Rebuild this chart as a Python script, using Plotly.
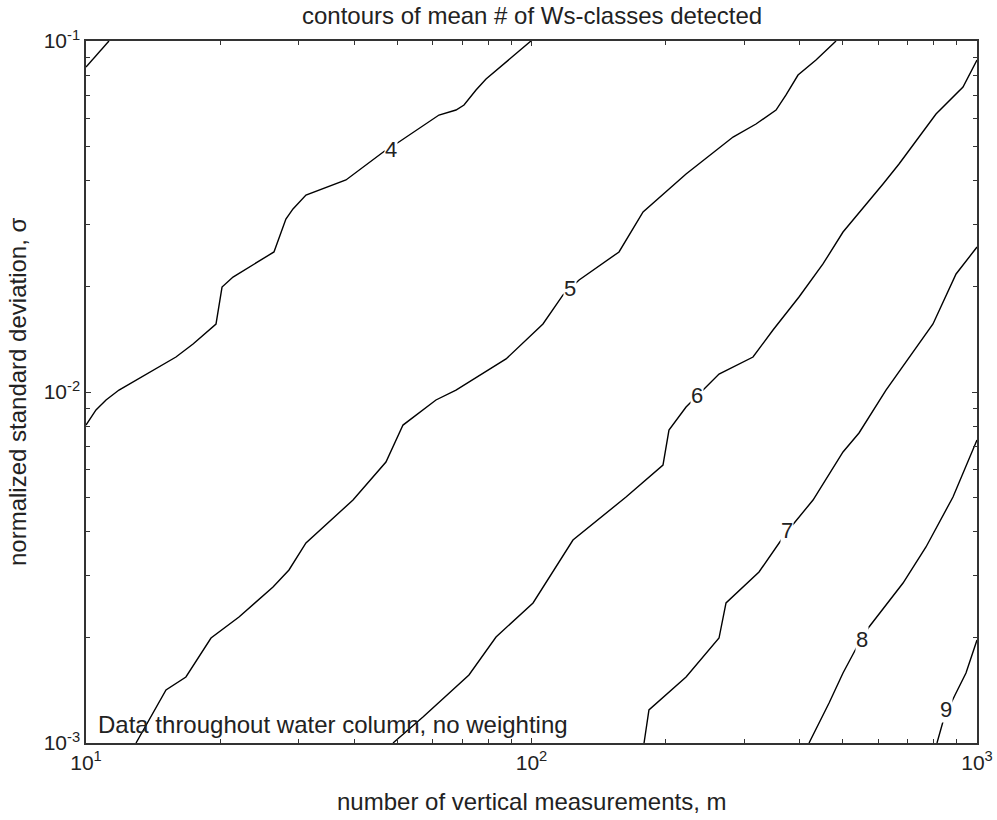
import math
import plotly.graph_objects as go

# ---- contour data: (m, sigma) pairs per contour level ----
c3_m = [10.0, 11.26]
c3_s = [0.0843, 0.1]

c4_m = [10.0, 10.53, 11.09, 11.86, 15.92, 17.39, 19.58, 20.20, 21.38, 26.42, 28.10, 29.15,
        31.17, 38.33, 47.13, 49.63, 61.99, 67.69, 70.55, 75.07, 79.06, 87.67, 99.7]
c4_s = [0.00805, 0.00889, 0.00949, 0.01013, 0.01258, 0.01370, 0.01562, 0.01991, 0.02126, 0.02506,
        0.03111, 0.03323, 0.03641, 0.04018, 0.04891, 0.05087, 0.06153, 0.06358, 0.06570, 0.07253,
        0.07793, 0.08713, 0.1]

c5_m = [12.95, 15.12, 16.76, 19.08, 22.05, 26.29, 28.55, 31.17, 39.75, 47.13, 51.47, 61.03, 67.69,
        87.67, 106.1, 117.7, 127.9, 157.2, 178.0, 222.3, 283.4, 319.1, 353.9, 372.7, 396.5, 435.1, 482.6]
c5_s = [0.001, 0.001416, 0.001542, 0.001991, 0.002286, 0.002782, 0.003111, 0.003714, 0.004924,
        0.006318, 0.00805, 0.00949, 0.01013, 0.01242, 0.01562, 0.01890, 0.02085, 0.02506, 0.03257,
        0.04180, 0.05326, 0.05801, 0.06358, 0.07019, 0.07999, 0.08829, 0.1]

c6_m = [48.88, 57.07, 72.38, 83.25, 100.8, 123.9, 163.0, 197.3, 203.5, 222.3, 263.6, 314.2, 348.4,
        398.5, 451.1, 500.3, 615.2, 668.3, 809.1, 930.2, 1000.0]
c6_s = [0.001, 0.001186, 0.001562, 0.002004, 0.002506, 0.003787, 0.005022, 0.006194, 0.007793,
        0.009063, 0.01125, 0.01258, 0.01502, 0.01865, 0.02316, 0.02856, 0.03914, 0.04463, 0.06194,
        0.07397, 0.08829]

c7_m = [178.9, 183.5, 222.3, 263.6, 273.3, 324.1, 372.7, 428.5, 500.3, 543.4, 624.8, 741.2, 796.5,
        897.4, 1000.0]
c7_s = [0.001, 0.001242, 0.001542, 0.001991, 0.002506, 0.003070, 0.003966, 0.004924, 0.006748,
        0.007642, 0.01013, 0.01370, 0.01562, 0.02169, 0.02588]

c8_m = [419.7, 465.5, 500.3, 543.4, 572.3, 682.3, 768.3, 883.3, 1000.0]
c8_s = [0.001, 0.001300, 0.001583, 0.001927, 0.002141, 0.002856, 0.003618, 0.005022, 0.007297]

c9_m = [813.2, 843.2, 892.6, 944.7, 1000.0]
c9_s = [0.001, 0.001178, 0.001370, 0.001583, 0.001965]

contours = [(c3_m, c3_s), (c4_m, c4_s), (c5_m, c5_s), (c6_m, c6_s),
            (c7_m, c7_s), (c8_m, c8_s), (c9_m, c9_s)]

label_text = ["4", "5", "6", "7", "8", "9"]
label_m = [48.4, 122.0, 235.2, 374.6, 552.0, 851.9]
label_s = [0.04924, 0.01978, 0.00980, 0.004018, 0.001978, 0.001242]

x_tickvals = [10, 100, 1000]
x_ticktext = ["10<sup>1</sup>", "10<sup>2</sup>", "10<sup>3</sup>"]
y_tickvals = [0.001, 0.01, 0.1]
y_ticktext = ["10<sup>-3</sup>", "10<sup>-2</sup>", "10<sup>-1</sup>"]
x_minor = [d * k for d in (10, 100) for k in range(2, 10)]
y_minor = [d * k for d in (0.001, 0.01) for k in range(2, 10)]

FONT = "Liberation Sans, Arial, sans-serif"
TXT = "#222"

fig = go.Figure()
for m, s in contours:
    fig.add_trace(go.Scatter(x=m, y=s, mode="lines",
                             line=dict(color="black", width=1.4),
                             showlegend=False, hoverinfo="skip"))

# annotations on log axes take log10 positions
for t, m, s in zip(label_text, label_m, label_s):
    fig.add_annotation(x=math.log10(m), y=math.log10(s), xref="x", yref="y", text=t,
                       showarrow=False, font=dict(size=22, color=TXT, family=FONT),
                       bgcolor="white", borderpad=0)

axis_common = dict(type="log", showgrid=False, zeroline=False, automargin=False,
                   showline=True, linecolor="#333", linewidth=1.5, mirror="ticks",
                   ticks="inside", ticklen=5, tickcolor="#333",
                   tickfont=dict(size=21, color=TXT, family=FONT))

fig.update_xaxes(range=[1, 3], tickmode="array", tickvals=x_tickvals, ticktext=x_ticktext,
                 minor=dict(tickmode="array", tickvals=x_minor, ticks="inside", ticklen=4,
                            tickcolor="#333", showgrid=False),
                 **axis_common)
fig.update_yaxes(range=[-3, -1], tickmode="array", tickvals=y_tickvals, ticktext=y_ticktext,
                 minor=dict(tickmode="array", tickvals=y_minor, ticks="inside", ticklen=4,
                            tickcolor="#333", showgrid=False),
                 **axis_common)

fig.add_annotation(text="contours of mean # of Ws-classes detected", xref="paper", yref="paper",
                   x=0.5, y=1, yshift=26, xanchor="center", yanchor="middle", showarrow=False,
                   font=dict(size=24, color=TXT, family=FONT))
fig.add_annotation(text="number of vertical measurements, m", xref="paper", yref="paper",
                   x=0.5, y=0, yshift=-58, xanchor="center", yanchor="middle", showarrow=False,
                   font=dict(size=24, color=TXT, family=FONT))
fig.add_annotation(text="normalized standard deviation, σ", xref="paper", yref="paper",
                   x=0, xshift=-69, y=0.5, xanchor="center", yanchor="middle", textangle=-90,
                   showarrow=False, font=dict(size=24, color=TXT, family=FONT))
fig.add_annotation(text="Data throughout water column, no weighting", xref="paper", yref="paper",
                   x=0, xshift=10, y=0, yshift=3, xanchor="left", yanchor="bottom", showarrow=False,
                   font=dict(size=24, color=TXT, family=FONT))

fig.update_layout(width=997, height=820, plot_bgcolor="white", paper_bgcolor="white",
                  margin=dict(l=86, r=20, t=41, b=77), showlegend=False)

fig.write_html("out.html")
